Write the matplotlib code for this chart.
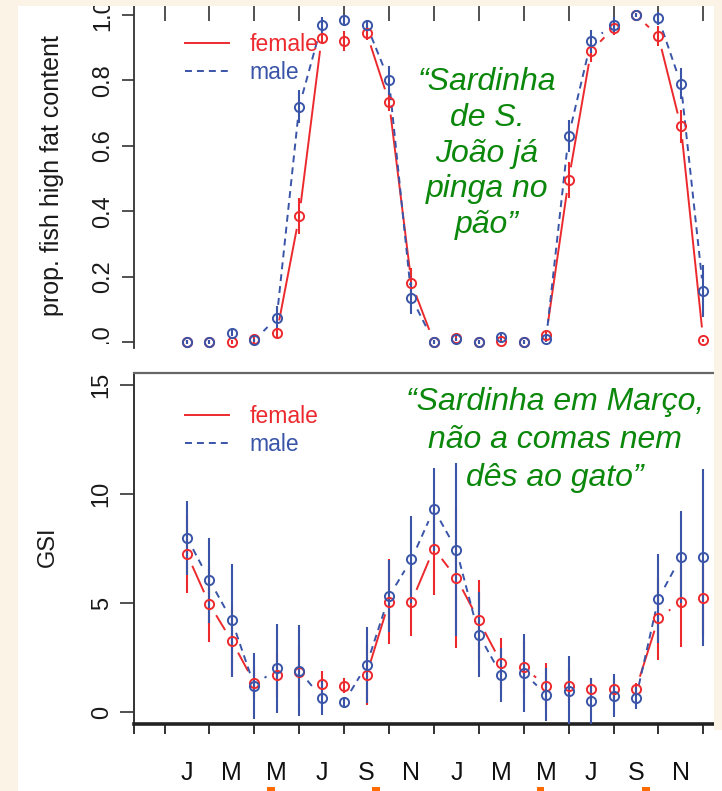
import numpy as np
import matplotlib
matplotlib.use('Agg')
import matplotlib.pyplot as plt
from matplotlib.collections import LineCollection
from matplotlib.patches import Rectangle
from matplotlib.lines import Line2D

plt.rcParams['font.family'] = ['Liberation Sans', 'DejaVu Sans']
plt.rcParams['lines.scale_dashes'] = False

# ---- data (months 1..24 = two years, Jan..Dec) ----
months = np.arange(1, 25)
month_letters = ['J', 'F', 'M', 'A', 'M', 'J', 'J', 'A', 'S', 'O', 'N', 'D'] * 2

fat_female = [0.0, 0.0, 0.0, 0.008, 0.027, 0.385, 0.93, 0.92, 0.945, 0.735, 0.18, 0.0,
              0.012, 0.0, 0.003, 0.0, 0.02, 0.495, 0.89, 0.96, 1.0, 0.935, 0.66, 0.005]
fat_female_err = [0.005, 0.005, 0.005, 0.01, 0.015, 0.055, 0.02, 0.03, 0.02, 0.03, 0.045, 0.005,
                  0.008, 0.005, 0.005, 0.005, 0.01, 0.055, 0.035, 0.02, 0.005, 0.03, 0.05, 0.005]
fat_male = [0.0, 0.0, 0.027, 0.005, 0.074, 0.72, 0.97, 0.985, 0.97, 0.80, 0.135, 0.0,
            0.008, 0.0, 0.015, 0.0, 0.01, 0.63, 0.92, 0.97, 1.0, 0.99, 0.79, 0.155]
fat_male_err = [0.005, 0.005, 0.01, 0.005, 0.035, 0.05, 0.025, 0.015, 0.015, 0.045, 0.05, 0.005,
                0.005, 0.005, 0.008, 0.005, 0.01, 0.05, 0.035, 0.025, 0.005, 0.02, 0.048, 0.08]

gsi_female = [7.25, 4.95, 3.25, 1.35, 1.7, 1.85, 1.3, 1.2, 1.7, 5.05, 5.05, 7.5,
              6.15, 4.2, 2.25, 2.05, 1.2, 1.2, 1.05, 1.05, 1.05, 4.3, 5.05, 5.25]
gsi_female_err = [1.8, 1.75, 1.6, 0.7, 1.0, 1.2, 0.6, 0.35, 1.4, 1.95, 1.55, 2.15,
                  3.2, 1.85, 1.15, 1.2, 1.05, 0.8, 0.5, 0.5, 0.3, 1.9, 2.05, 1.7]
gsi_male = [8.0, 6.05, 4.2, 1.2, 2.0, 1.9, 0.65, 0.45, 2.15, 5.3, 7.0, 9.3,
            7.45, 3.55, 1.7, 1.8, 0.8, 0.95, 0.5, 0.75, 0.65, 5.2, 7.1, 7.1]
gsi_male_err = [1.7, 1.95, 2.6, 1.5, 2.05, 2.1, 0.8, 0.2, 1.75, 1.65, 2.0, 1.9,
                3.95, 1.95, 1.25, 1.8, 1.2, 1.6, 1.05, 1.0, 0.5, 2.05, 2.1, 4.05]

quote_top = ['\u201cSardinha', 'de S.', 'João já', 'pinga no', 'pão\u201d']
quote_bottom = ['\u201cSardinha em Março,', 'não a comas nem', 'dês ao gato\u201d']

RED = '#EC2A2E'
BLUE = '#3A55A8'
GREEN = '#0B870B'
BEIGE = '#FBF4E6'
AXC = '#333333'
DASH = (0, (5.0, 3.6))

W, H = 722, 791
fig = plt.figure(figsize=(W / 100, H / 100), dpi=100, facecolor=BEIGE)


def box(x0, y0, x1, y1):
    # pixel box (origin top-left) -> figure fraction rect
    return [x0 / W, 1 - y1 / H, (x1 - x0) / W, (y1 - y0) / H]


def gapped(ax, x, y, gap, **kw):
    # R type="b": segments stop short of the points
    pts = ax.transData.transform(np.column_stack([x, y]))
    inv = ax.transData.inverted()
    segs = []
    for p, q in zip(pts[:-1], pts[1:]):
        d = q - p
        n = np.hypot(*d)
        if n > 2 * gap:
            u = d / n
            segs.append(inv.transform([p + u * gap, q - u * gap]))
    ax.add_collection(LineCollection(segs, **kw))


def draw_series(ax, yf, ef, ym, em):
    yf, ef, ym, em = map(np.asarray, (yf, ef, ym, em))
    ax.vlines(months, yf - ef, yf + ef, color=RED, lw=1.5, zorder=2)
    ax.vlines(months, ym - em, ym + em, color=BLUE, lw=1.5, zorder=3)
    gapped(ax, months, yf, 13, colors=RED, linewidths=1.4, zorder=2)
    gapped(ax, months, ym, 13, colors=BLUE, linewidths=1.4, linestyles=[DASH], zorder=3)
    ax.plot(months, yf, 'o', ms=6.6, mfc='none', mec=RED, mew=1.4, zorder=4)
    ax.plot(months, ym, 'o', ms=6.6, mfc='none', mec=BLUE, mew=1.4, zorder=5)


def add_legend(ax, top_px):
    handles = [Line2D([], [], color=RED, lw=1.4),
               Line2D([], [], color=BLUE, lw=1.4, ls=DASH)]
    ax.legend(handles, ['female', 'male'], loc='upper left',
              bbox_to_anchor=(185 / W, 1 - top_px / H), bbox_transform=fig.transFigure,
              frameon=False, fontsize=16.5, handlelength=1.9, handletextpad=0.9,
              labelspacing=0.2, borderpad=0, borderaxespad=0, labelcolor=[RED, BLUE])


xlim = ((133.5 - 164.5) / 22.45, (722 - 164.5) / 22.45)
odd_months = months[::2]
even_months = np.arange(0, 25, 2)

# white slide panel behind the plots
fig.add_artist(Rectangle((18 / W, 0), (722 - 18) / W, 1 - 6 / H, transform=fig.transFigure,
                         facecolor='white', edgecolor='none', zorder=-1))

# ---- top panel: proportion of fish with high fat content ----
ax1 = fig.add_axes(box(133.5, 6, 722, 348))
ax1.set_facecolor('none')
ax1.set_xlim(xlim)
ax1.set_ylim((342 - 348) / 327, (342 - 6) / 327)
draw_series(ax1, fat_female, fat_female_err, fat_male, fat_male_err)
ax1.set_yticks(np.arange(0, 1.01, 0.2), labels=['0.0', '0.2', '0.4', '0.6', '0.8', '1.0'],
               rotation=90, va='center')
ax1.tick_params(axis='y', length=9, width=1.2, color=AXC, labelsize=17, pad=5,
                labelcolor='#1a1a1a')
ax1.xaxis.set_ticks_position('top')
ax1.set_xticks(even_months, labels=[])
ax1.tick_params(axis='x', direction='in', length=11, width=1.2, color=AXC)
for s in ['top', 'right', 'bottom']:
    ax1.spines[s].set_visible(False)
ax1.spines['left'].set_color(AXC)
ax1.spines['left'].set_linewidth(1.3)
ax1.set_ylabel('prop. fish high fat content', fontsize=18, va='center', color='#1a1a1a')
ax1.yaxis.set_label_coords((52 - 133.5) / (722 - 133.5), (348 - 176) / (348 - 6))
add_legend(ax1, 33)

# ---- bottom panel: GSI ----
ax2 = fig.add_axes(box(133.5, 373, 722, 724))
ax2.set_facecolor('none')
ax2.set_xlim(xlim)
ax2.set_ylim(-0.55, 15.55)
draw_series(ax2, gsi_female, gsi_female_err, gsi_male, gsi_male_err)
ax2.set_yticks([0, 5, 10, 15], labels=['0', '5', '10', '15'], rotation=90, va='center')
ax2.tick_params(axis='y', length=10, width=1.2, color=AXC, labelsize=17, pad=5,
                labelcolor='#1a1a1a')
ax2.set_xticks(np.r_[xlim[0], even_months], labels=[])
ax2.set_xticks(odd_months, labels=month_letters[::2], minor=True)
ax2.tick_params(axis='x', which='major', length=7, width=1.3, color='#222222')
ax2.tick_params(axis='x', which='minor', length=0, pad=27, labelsize=18, labelcolor='#111111')
ax2.spines['right'].set_visible(False)
ax2.spines['bottom'].set_linewidth(2.6)
ax2.spines['bottom'].set_color('#222222')
ax2.spines['top'].set_color('#666666')
ax2.spines['top'].set_linewidth(1.6)
ax2.spines['left'].set_color(AXC)
ax2.spines['left'].set_linewidth(1.4)
ax2.set_ylabel('GSI', fontsize=17, va='center', color='#1a1a1a')
ax2.yaxis.set_label_coords((48 - 133.5) / (722 - 133.5), (724 - 547) / (724 - 373))
add_legend(ax2, 405)

# ---- proverbs ----
for i, line in enumerate(quote_top):
    fig.text(487 / W, 1 - (90 + 35.8 * i) / H, line, ha='center', va='baseline',
             fontsize=23, style='italic', color=GREEN, zorder=6)
for i, line in enumerate(quote_bottom):
    fig.text(555 / W, 1 - (410 + 38 * i) / H, line, ha='center', va='baseline',
             fontsize=23, style='italic', color=GREEN, zorder=6)

# ---- slide edges that crop the pasted plots ----
for x0, y0, x1, y1, c in [(0, 0, 722, 6, BEIGE), (713.5, 0, 722, 730, BEIGE),
                          (85, 343.5, 124, 366, 'white'),
                          (267, 787, 275, 791, '#FF6A00'), (372, 787, 380, 791, '#FF6A00'),
                          (537, 787, 544, 791, '#FF6A00'), (642, 787, 650, 791, '#FF6A00')]:
    fig.add_artist(Rectangle((x0 / W, 1 - y1 / H), (x1 - x0) / W, (y1 - y0) / H,
                             transform=fig.transFigure, facecolor=c, edgecolor='none',
                             zorder=5))

fig.savefig('out.png', dpi=100, facecolor=BEIGE)
